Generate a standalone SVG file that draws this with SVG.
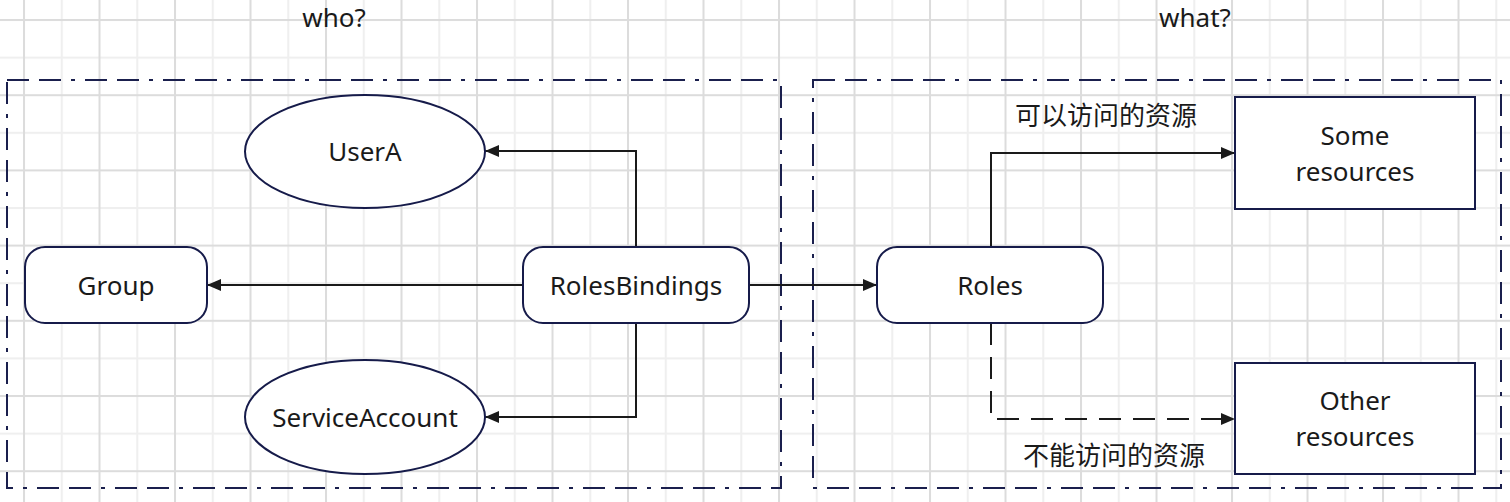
<svg xmlns="http://www.w3.org/2000/svg" width="1510" height="502" viewBox="0 0 1510 502">
  <defs>
    <pattern id="grid" x="23" y="19" width="75.5" height="75.2" patternUnits="userSpaceOnUse">
      <rect x="0" y="0" width="75.5" height="75.2" fill="#ffffff"/>
      <rect x="37.75" y="0" width="2" height="75.2" fill="#efefef"/>
      <rect x="0" y="37.6" width="75.5" height="2" fill="#efefef"/>
      <rect x="0" y="0" width="2" height="75.2" fill="#dcdcdc"/>
      <rect x="0" y="0" width="75.5" height="2" fill="#dcdcdc"/>
    </pattern>
    <marker id="arrow" viewBox="0 0 14 12" refX="14" refY="6" markerWidth="14" markerHeight="12" markerUnits="userSpaceOnUse" orient="auto">
      <path d="M0,0 L14,6 L0,12 Z" fill="#1a1a1a"/>
    </marker>
    <style>
      .zone { fill: none; stroke: #1a1f4d; stroke-width: 2; stroke-dasharray: 22 10 22 10 4 10; }
      .node { fill: #ffffff; stroke: #161b4a; stroke-width: 2; }
      .edge { fill: none; stroke: #1a1a1a; stroke-width: 2; }
      .dashed { stroke-dasharray: 22 12; }
      .label { font-family: "Noto Sans", "Open Sans", sans-serif; font-size: 26px; fill: #1a1a1a; text-anchor: middle; }
      .cjk { font-family: "Noto Sans CJK SC", "Noto Sans", sans-serif; font-size: 26px; fill: #1a1a1a; text-anchor: middle; }
    </style>
  </defs>

  <rect x="0" y="0" width="1510" height="502" fill="url(#grid)"/>

  <g id="titles">
    <text class="label" x="334" y="27" font-size="23">who?</text>
    <text class="label" x="1195" y="27" font-size="23">what?</text>
  </g>

  <g id="zone-who">
    <rect class="zone" x="7" y="80" width="774" height="408"/>
  </g>
  <g id="zone-what">
    <rect class="zone" x="813" y="80" width="688" height="408"/>
  </g>

  <g id="connectors">
    <polyline class="edge" points="636,247 636,151 485,151" marker-end="url(#arrow)"/>
    <polyline class="edge" points="636,323 636,417 485,417" marker-end="url(#arrow)"/>
    <line class="edge" x1="523" y1="285" x2="207" y2="285" marker-end="url(#arrow)"/>
    <line class="edge" x1="749" y1="285" x2="877" y2="285" marker-end="url(#arrow)"/>
    <polyline class="edge" points="991,247 991,153 1235,153" marker-end="url(#arrow)"/>
    <polyline class="edge dashed" points="991,323 991,419 1235,419" marker-end="url(#arrow)"/>
    <text class="cjk" x="1106" y="125">可以访问的资源</text>
    <text class="cjk" x="1114" y="465">不能访问的资源</text>
  </g>

  <g id="node-usera">
    <ellipse class="node" cx="365" cy="151.5" rx="120" ry="56.5"/>
    <text class="label" x="365" y="161">UserA</text>
  </g>
  <g id="node-group">
    <rect class="node" x="25" y="247" width="182" height="76" rx="20" ry="20"/>
    <text class="label" x="116" y="295">Group</text>
  </g>
  <g id="node-rolesbindings">
    <rect class="node" x="523" y="247" width="226" height="76" rx="20" ry="20"/>
    <text class="label" x="636" y="295">RolesBindings</text>
  </g>
  <g id="node-serviceaccount">
    <ellipse class="node" cx="365" cy="417" rx="120" ry="57"/>
    <text class="label" x="365" y="427">ServiceAccount</text>
  </g>
  <g id="node-roles">
    <rect class="node" x="877" y="247" width="226" height="76" rx="20" ry="20"/>
    <text class="label" x="990" y="295">Roles</text>
  </g>
  <g id="node-some-resources">
    <rect class="node" x="1235" y="97" width="240" height="112"/>
    <text class="label" x="1355" y="145">Some</text>
    <text class="label" x="1355" y="181">resources</text>
  </g>
  <g id="node-other-resources">
    <rect class="node" x="1235" y="363" width="240" height="111"/>
    <text class="label" x="1355" y="410">Other</text>
    <text class="label" x="1355" y="446">resources</text>
  </g>
</svg>
